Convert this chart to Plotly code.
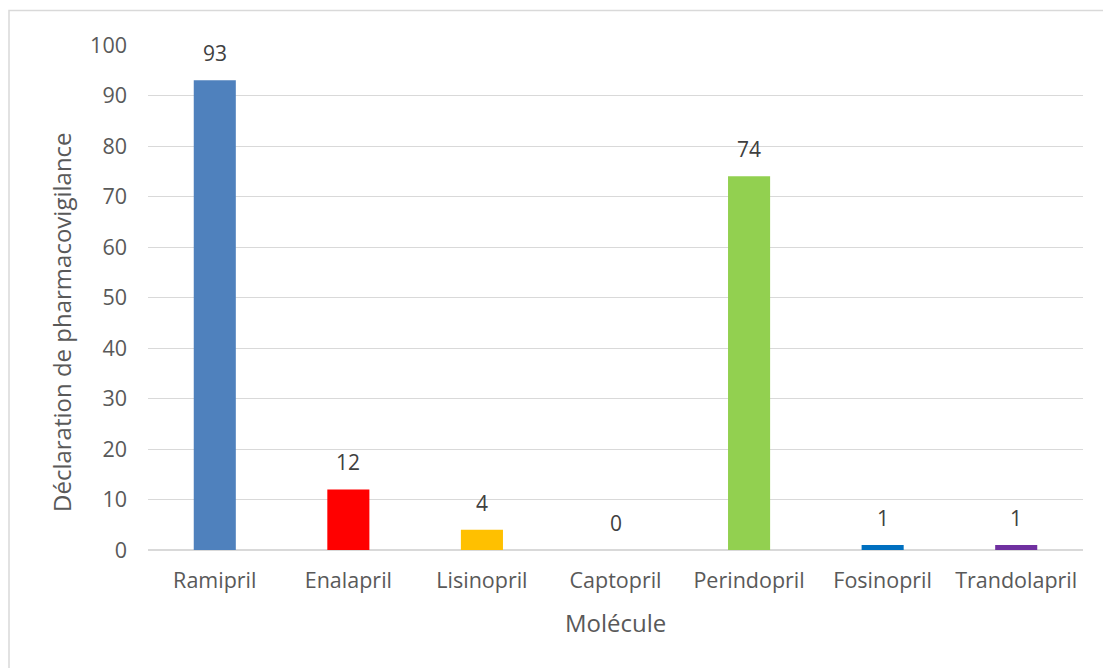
import plotly.graph_objects as go

categories = ["Ramipril", "Enalapril", "Lisinopril", "Captopril", "Perindopril", "Fosinopril", "Trandolapril"]
values = [93, 12, 4, 0, 74, 1, 1]
colors = ["#4F81BD", "#FF0000", "#FFC000", "#A5A5A5", "#92D050", "#0070C0", "#7030A0"]
y_ticks = [0, 10, 20, 30, 40, 50, 60, 70, 80, 90, 100]

FONT = "Open Sans, Calibri, sans-serif"
TXT = "#595959"

fig = go.Figure()
fig.add_trace(go.Bar(
    x=categories, y=values, marker=dict(color=colors, line=dict(width=0)),
    showlegend=False, hoverinfo="x+y",
))

for c, v in zip(categories, values):
    fig.add_annotation(x=c, y=v, text=str(v), showarrow=False, yanchor="middle",
                       yshift=27, font=dict(family=FONT, size=21, color="#404040"))

# axis titles placed as annotations
fig.add_annotation(xref="paper", yref="paper", x=(615 - 148) / 935, y=(550 - 622) / 505,
                   text="Molécule", showarrow=False, xanchor="center", yanchor="middle",
                   font=dict(family=FONT, size=24, color=TXT))
fig.add_annotation(xref="paper", yref="paper", x=(61 - 148) / 935, y=(550 - 322) / 505,
                   text="Déclaration de pharmacovigilance", textangle=-90, showarrow=False,
                   xanchor="center", yanchor="middle",
                   font=dict(family=FONT, size=24, color=TXT))

fig.update_layout(
    width=1103, height=668,
    margin=dict(l=148, r=20, t=45, b=118),
    paper_bgcolor="white", plot_bgcolor="white",
    bargap=0.685,
    font=dict(family=FONT, size=21, color=TXT),
    xaxis=dict(
        showgrid=False, showline=False, ticks="", ticklabelstandoff=15,
        tickfont=dict(family=FONT, size=21.5, color=TXT),
    ),
    yaxis=dict(
        range=[0, 100], tickvals=y_ticks, showgrid=True, gridcolor="#D9D9D9", gridwidth=1,
        zeroline=True, zerolinecolor="#D9D9D9", zerolinewidth=2,
        ticks="", ticklabelstandoff=20,
        tickfont=dict(family=FONT, size=21.5, color=TXT),
    ),
    shapes=[dict(type="rect", xref="paper", yref="paper",
                 x0=(9 - 148) / 935, x1=(1110 - 148) / 935,
                 y0=(550 - 680) / 505, y1=1 + (45 - 10.5) / 505,
                 line=dict(color="#D9D9D9", width=1.5), fillcolor="rgba(0,0,0,0)", layer="below")],
)

fig.write_html("out.html", config={"displayModeBar": False},
               post_script="document.body.style.margin='0';document.body.style.padding='0';")
